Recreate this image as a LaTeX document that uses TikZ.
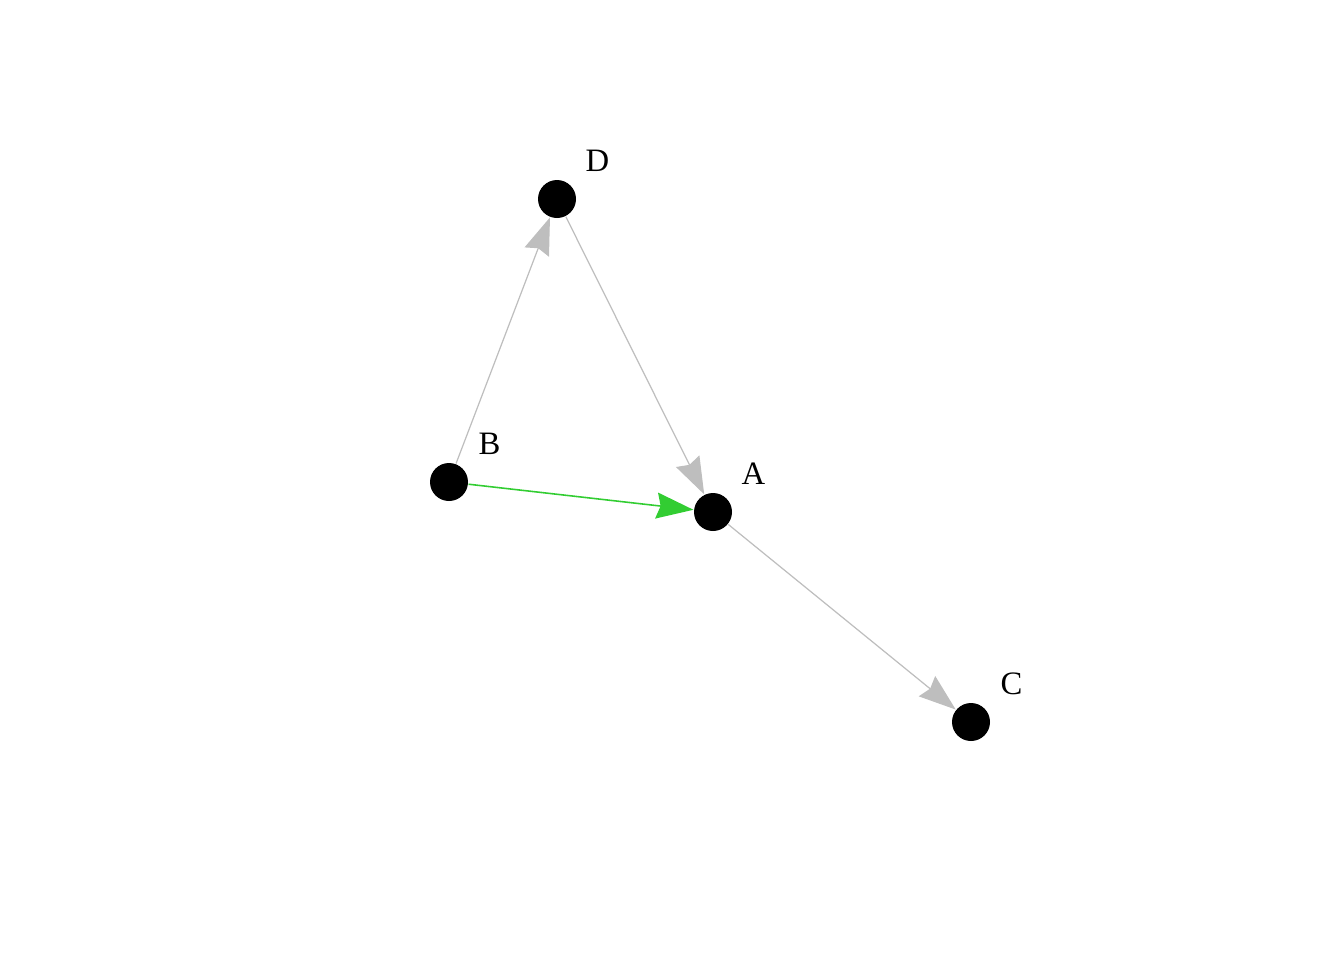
\documentclass[tikz,border=0pt]{standalone}
\usepackage{fontspec}
\setmainfont{Liberation Serif}
\usetikzlibrary{arrows.meta}
\definecolor{edgegray}{HTML}{BEBEBE}
\definecolor{edgegreen}{HTML}{32CD32}
\begin{document}
\begin{tikzpicture}[
    vertex/.style={circle,fill=black,draw=none,inner sep=0pt,minimum size=0.38cm},
    lbl/.style={font=\fontsize{9.3}{11}\selectfont},
    edge/.style={draw=edgegray,line width=0.35pt,-{Stealth[length=0.37cm,width=0.26cm,inset=0.04cm]}}
    ]
        \useasboundingbox (0,0) rectangle (13.44,9.6);
        \node[vertex] (A) at (7.13,4.48) {};
        \node[vertex] (B) at (4.49,4.78) {};
        \node[vertex] (C) at (9.71,2.38) {};
        \node[vertex] (D) at (5.57,7.61) {};
        \foreach \v in {A,B,C,D}
            \node[lbl] (lab\v) at ([shift={(0.405,0.385)}]\v.center) {\v};
        \draw[edge] (B) -- (D);
        \draw[edge] (D) -- (A);
        \draw[edge] (A) -- (C);
        \draw[edge,draw=edgegreen,fill=edgegreen,line width=0.45pt] (B) -- (A);
\end{tikzpicture}
\end{document}
